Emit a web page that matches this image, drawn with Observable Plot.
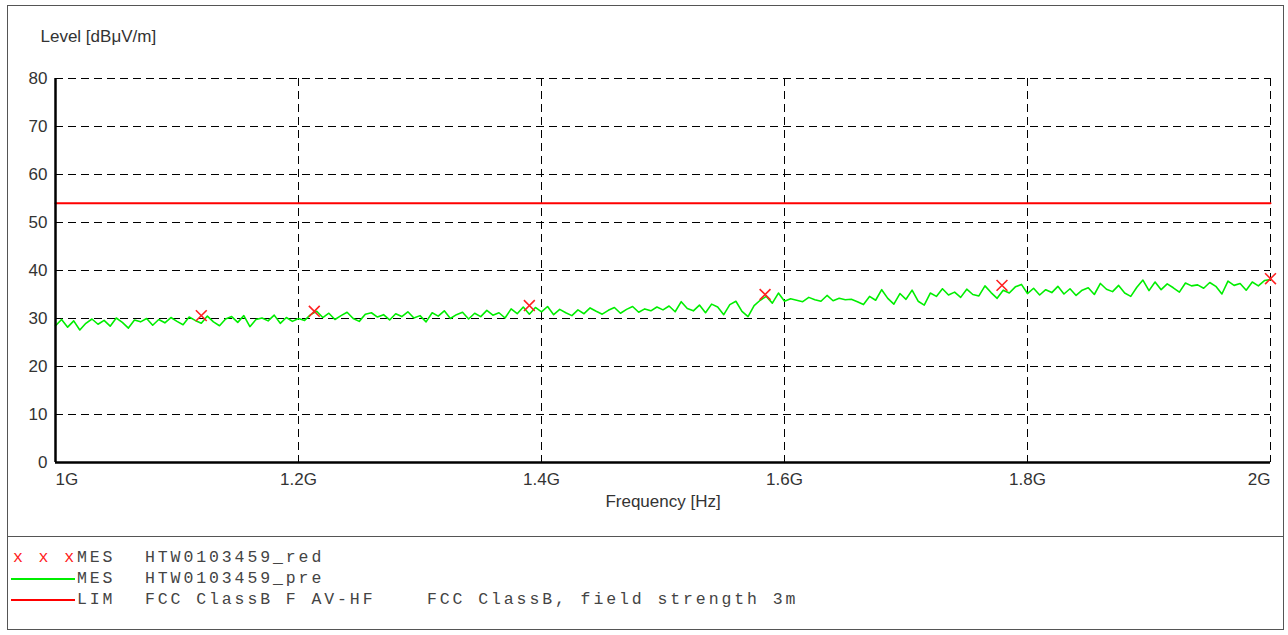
<!DOCTYPE html>
<html>
<head>
<meta charset="utf-8">
<script src="https://cdn.jsdelivr.net/npm/d3@7"></script>
<script src="https://cdn.jsdelivr.net/npm/@observablehq/plot@0.6"></script>
<style>
  html, body { margin: 0; padding: 0; background: #fff; }
  #wrap { position: relative; width: 1288px; height: 635px; overflow: hidden; font-family: "Liberation Sans", Arial, sans-serif; }
  #frame { position: absolute; left: 7px; top: 5px; width: 1277px; height: 625px; border: 1px solid #555; box-sizing: border-box; }
  #sep { position: absolute; left: 7px; top: 536px; width: 1277px; height: 0; border-top: 1px solid #555; }
  #chart { position: absolute; left: 0; top: 0; }
  .lg { position: absolute; font-family: "Liberation Mono", "Courier New", monospace; font-size: 16.5px; letter-spacing: 2.9px; color: #444; white-space: pre; line-height: 16px; }
  .sw { position: absolute; height: 0; border-top: 2px solid; }
</style>
</head>
<body>
<div id="wrap">
  <div id="chart"></div>
  <div id="frame"></div>
  <div id="sep"></div>
  <div id="legend"></div>
</div>
<script>
// ---- data ----
const freqStart = 1.0;   // GHz
const freqStep = 0.005;  // GHz
const preValues = [
  28.5,29.8,28.2,29.5,27.6,29.0,29.9,28.8,29.6,28.4,30.1,29.2,28.0,29.7,29.3,30.0,28.6,29.8,29.1,30.2,
  29.4,28.7,30.3,29.6,29.0,30.5,29.3,28.5,29.9,30.4,29.2,30.6,28.3,29.8,30.1,29.5,30.7,29.0,30.2,29.4,
  30.0,29.6,30.8,31.5,30.2,31.1,29.8,30.6,31.3,30.0,29.4,30.9,31.2,30.3,30.8,29.7,31.0,30.4,31.4,30.1,
  30.6,29.3,31.2,30.5,31.6,30.0,30.8,31.3,29.9,31.1,30.4,31.7,30.7,31.2,30.1,32.0,31.0,32.4,30.9,32.3,
  31.4,32.5,30.8,31.9,31.2,30.6,31.8,31.0,32.2,31.5,30.9,31.7,32.3,31.1,31.9,32.5,31.3,32.0,31.6,32.4,
  31.8,32.6,31.4,33.5,32.1,31.6,32.8,31.2,33.0,32.4,30.8,32.9,33.6,31.5,30.4,32.7,33.8,34.6,33.2,35.3,
  33.6,34.1,33.8,33.5,34.4,33.9,33.6,34.8,33.7,34.2,33.9,34.0,33.5,32.9,34.6,33.8,36.0,34.2,33.0,35.2,
  34.0,35.9,33.6,32.8,35.3,34.6,36.2,34.9,35.5,34.4,36.1,35.0,34.7,36.8,35.4,34.2,35.9,35.3,36.6,37.1,
  35.2,36.3,34.9,36.0,35.4,36.7,35.1,36.2,34.8,35.9,36.4,35.0,37.3,36.1,35.6,36.9,35.3,34.6,36.5,38.0,
  35.8,37.6,36.0,37.2,36.4,35.5,37.4,36.8,37.0,36.3,37.5,36.7,35.1,37.8,36.9,37.3,35.9,37.6,36.8,37.9,38.1
];
const redFreqs = [1.120, 1.213, 1.390, 1.584, 1.779, 2.000]; // GHz
const redLevels = [30.6, 31.5, 32.7, 35.0, 36.9, 38.3];
const limitFreqs = [1.0, 2.0];
const limitLevels = [54, 54];
const xTicks = [1.0, 1.2, 1.4, 1.6, 1.8, 2.0];
const xTickLabels = ["1G", "1.2G", "1.4G", "1.6G", "1.8G", "2G"];
const yTicks = [0, 10, 20, 30, 40, 50, 60, 70, 80];

const pre = preValues.map((v, i) => ({f: freqStart + i * freqStep, v}));
const red = redFreqs.map((f, i) => ({f, v: redLevels[i]}));
const lim = limitFreqs.map((f, i) => ({f, v: limitLevels[i]}));
const tickFmt = d => xTickLabels[xTicks.findIndex(t => Math.abs(t - d) < 1e-9)];

const txt = "#333";
const chart = Plot.plot({
  width: 1288,
  height: 540,
  marginLeft: 55,
  marginRight: 18,
  marginTop: 78,
  marginBottom: 78,
  style: {fontFamily: "'Liberation Sans', Arial, sans-serif", background: "transparent"},
  x: {domain: [1.0, 2.0]},
  y: {domain: [0, 80]},
  marks: [
    Plot.gridY(yTicks.filter(t => t > 0), {stroke: "#000", strokeOpacity: 1, strokeWidth: 1, strokeDasharray: "8,5"}),
    Plot.gridX(xTicks.filter(t => t > 1.0), {stroke: "#000", strokeOpacity: 1, strokeWidth: 1, strokeDasharray: "8,5"}),
    Plot.line(lim, {x: "f", y: "v", stroke: "#ff0000", strokeWidth: 2}),
    Plot.line(pre, {x: "f", y: "v", stroke: "#00ee00", strokeWidth: 1.6}),
    Plot.dot(red, {x: "f", y: "v", symbol: "times", r: 5, stroke: "#ff2020", strokeWidth: 1.6}),
    Plot.ruleX([1.0], {stroke: "#000", strokeWidth: 2.5}),
    Plot.ruleY([0], {stroke: "#000", strokeWidth: 2.5}),
    Plot.axisY({ticks: yTicks, tickSize: 0, tickPadding: 8, fontSize: 17, fill: txt, label: null}),
    Plot.axisX({ticks: [xTicks[0]], tickFormat: tickFmt, tickSize: 0, tickPadding: 10, fontSize: 17, fill: txt, textAnchor: "start", label: null}),
    Plot.axisX({ticks: xTicks.slice(1, -1), tickFormat: tickFmt, tickSize: 0, tickPadding: 10, fontSize: 17, fill: txt, label: null}),
    Plot.axisX({ticks: [xTicks[xTicks.length - 1]], tickFormat: tickFmt, tickSize: 0, tickPadding: 10, fontSize: 17, fill: txt, textAnchor: "end", label: null}),
    Plot.text(["Frequency [Hz]"], {frameAnchor: "bottom", dy: 44, fontSize: 17, fill: txt}),
    Plot.text(["Level [dBμV/m]"], {frameAnchor: "top-left", dx: -15, dy: -49, textAnchor: "start", fontSize: 17, fill: txt})
  ]
});
document.getElementById("chart").appendChild(chart);

// ---- legend ----
const legendRows = [
  {kind: "x", color: "#ff2020", type: "MES", name: "HTW0103459_red", desc: ""},
  {kind: "line", color: "#00ee00", type: "MES", name: "HTW0103459_pre", desc: ""},
  {kind: "line", color: "#ff0000", type: "LIM", name: "FCC ClassB F AV-HF", desc: "FCC ClassB, field strength 3m"}
];
const lg = document.getElementById("legend");
function addText(x, y, s, color) {
  const d = document.createElement("div");
  d.className = "lg"; d.style.left = x + "px"; d.style.top = y + "px";
  if (color) d.style.color = color;
  d.textContent = s;
  lg.appendChild(d);
}
legendRows.forEach((r, i) => {
  const y = 550 + i * 21;
  if (r.kind === "x") {
    addText(13, y, "x x x", r.color);
  } else {
    const s = document.createElement("div");
    s.className = "sw"; s.style.left = "11px"; s.style.width = "64px"; s.style.top = (y + 7) + "px"; s.style.borderColor = r.color;
    lg.appendChild(s);
  }
  addText(77, y, r.type);
  addText(145, y, r.name);
  if (r.desc) addText(427, y, r.desc);
});
</script>
</body>
</html>
